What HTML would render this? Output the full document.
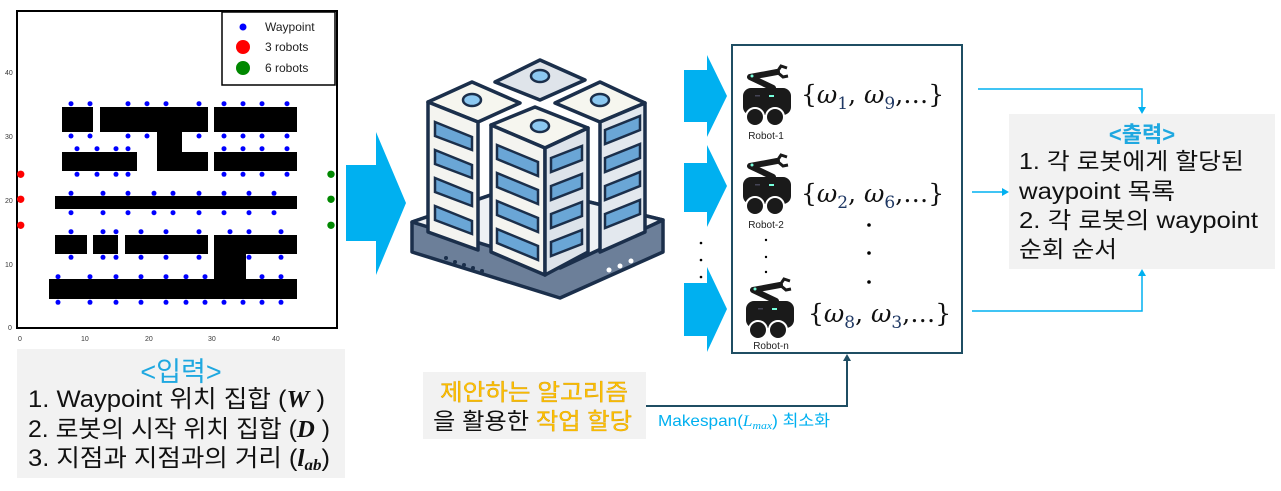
<!DOCTYPE html>
<html><head><meta charset="utf-8"><style>
body{margin:0;background:#fff;width:1281px;height:486px;overflow:hidden;font-family:"Liberation Sans","Noto Sans CJK KR",sans-serif}
</style></head><body>
<svg width="1281" height="486" viewBox="0 0 1281 486" xmlns="http://www.w3.org/2000/svg" font-family="Liberation Sans, Noto Sans CJK KR, sans-serif">
<defs>
<g id="rob">
<polyline points="30,23 7,12 34,7" fill="none" stroke="#1a1a1a" stroke-width="6" stroke-linejoin="round" stroke-linecap="round"/>
<path d="M34,7 L38,1 L44,3 M34,7 L40,12 L45,11" fill="none" stroke="#1a1a1a" stroke-width="3"/>
<circle cx="9" cy="11" r="1.5" fill="#7fd"/>
<rect x="0" y="23" width="48" height="27" rx="8" fill="#1a1a1a"/>
<rect x="26" y="30" width="5" height="2" fill="#7fd"/>
<rect x="12" y="30" width="5" height="1.5" fill="#445"/>
<circle cx="12" cy="52" r="9" fill="#1a1a1a" stroke="#fff" stroke-width="2"/>
<circle cx="32" cy="52" r="9" fill="#1a1a1a" stroke="#fff" stroke-width="2"/>
</g>
</defs>
<!-- plot -->
<rect x="17" y="11" width="320" height="317" fill="#fff" stroke="#000" stroke-width="2"/>
<g fill="#000" font-size="7" fill-opacity="0.8">
<text x="8" y="330">0</text><text x="5" y="267">10</text><text x="5" y="203">20</text><text x="5" y="139">30</text><text x="5" y="75">40</text>
<text x="18" y="341">0</text><text x="81" y="341">10</text><text x="145" y="341">20</text><text x="208" y="341">30</text><text x="272" y="341">40</text>
</g>
<g fill="#000">
<rect x="62" y="107" width="31" height="25"/><rect x="100" y="107" width="108" height="25"/><rect x="214" y="107" width="83" height="25"/>
<rect x="157" y="132" width="25" height="39"/><rect x="182" y="152" width="26" height="19"/>
<rect x="62" y="152" width="75" height="19"/><rect x="214" y="152" width="83" height="19"/>
<rect x="55" y="196" width="242" height="13"/>
<rect x="55" y="235" width="32" height="19"/><rect x="93" y="235" width="25" height="19"/><rect x="125" y="235" width="83" height="19"/>
<rect x="214" y="235" width="83" height="19"/><rect x="214" y="254" width="32" height="25"/>
<rect x="49" y="279" width="248" height="20"/>
</g>
<g fill="#00f">
<g transform="translate(0,103.7)"><circle cx="71" r="2.5"/><circle cx="90" r="2.5"/><circle cx="128" r="2.5"/><circle cx="147" r="2.5"/><circle cx="166" r="2.5"/><circle cx="199" r="2.5"/><circle cx="224" r="2.5"/><circle cx="243" r="2.5"/><circle cx="262" r="2.5"/><circle cx="287" r="2.5"/></g>
<g transform="translate(0,136)"><circle cx="71" r="2.5"/><circle cx="90" r="2.5"/><circle cx="128" r="2.5"/><circle cx="147" r="2.5"/><circle cx="199" r="2.5"/><circle cx="224" r="2.5"/><circle cx="243" r="2.5"/><circle cx="262" r="2.5"/><circle cx="287" r="2.5"/></g>
<g transform="translate(0,148.7)"><circle cx="77" r="2.5"/><circle cx="97" r="2.5"/><circle cx="116" r="2.5"/><circle cx="128" r="2.5"/><circle cx="224" r="2.5"/><circle cx="243" r="2.5"/><circle cx="262" r="2.5"/><circle cx="287" r="2.5"/></g>
<g transform="translate(0,174.3)"><circle cx="77" r="2.5"/><circle cx="97" r="2.5"/><circle cx="116" r="2.5"/><circle cx="128" r="2.5"/><circle cx="224" r="2.5"/><circle cx="243" r="2.5"/><circle cx="262" r="2.5"/><circle cx="287" r="2.5"/></g>
<g transform="translate(0,193.3)"><circle cx="71" r="2.5"/><circle cx="103" r="2.5"/><circle cx="128" r="2.5"/><circle cx="154" r="2.5"/><circle cx="173" r="2.5"/><circle cx="199" r="2.5"/><circle cx="224" r="2.5"/><circle cx="249" r="2.5"/><circle cx="274" r="2.5"/></g>
<g transform="translate(0,212.7)"><circle cx="71" r="2.5"/><circle cx="103" r="2.5"/><circle cx="128" r="2.5"/><circle cx="154" r="2.5"/><circle cx="173" r="2.5"/><circle cx="199" r="2.5"/><circle cx="224" r="2.5"/><circle cx="249" r="2.5"/><circle cx="274" r="2.5"/></g>
<g transform="translate(0,231.7)"><circle cx="71" r="2.5"/><circle cx="103" r="2.5"/><circle cx="116" r="2.5"/><circle cx="141" r="2.5"/><circle cx="166" r="2.5"/><circle cx="199" r="2.5"/><circle cx="230" r="2.5"/><circle cx="249" r="2.5"/><circle cx="281" r="2.5"/></g>
<g transform="translate(0,257.3)"><circle cx="71" r="2.5"/><circle cx="103" r="2.5"/><circle cx="116" r="2.5"/><circle cx="141" r="2.5"/><circle cx="166" r="2.5"/><circle cx="199" r="2.5"/><circle cx="249" r="2.5"/><circle cx="281" r="2.5"/></g>
<g transform="translate(0,276.7)"><circle cx="58" r="2.5"/><circle cx="90" r="2.5"/><circle cx="116" r="2.5"/><circle cx="141" r="2.5"/><circle cx="166" r="2.5"/><circle cx="186" r="2.5"/><circle cx="205" r="2.5"/><circle cx="262" r="2.5"/><circle cx="281" r="2.5"/></g>
<g transform="translate(0,302.3)"><circle cx="58" r="2.5"/><circle cx="90" r="2.5"/><circle cx="116" r="2.5"/><circle cx="141" r="2.5"/><circle cx="166" r="2.5"/><circle cx="186" r="2.5"/><circle cx="205" r="2.5"/><circle cx="224" r="2.5"/><circle cx="243" r="2.5"/><circle cx="262" r="2.5"/><circle cx="281" r="2.5"/></g>
</g>
<g fill="#f00"><circle cx="20.7" cy="174.3" r="3.7"/><circle cx="20.7" cy="199.3" r="3.7"/><circle cx="20.7" cy="225.3" r="3.7"/></g>
<g fill="#080"><circle cx="331" cy="174.3" r="3.7"/><circle cx="331" cy="199.3" r="3.7"/><circle cx="331" cy="225.3" r="3.7"/></g>
<rect x="222" y="12" width="113" height="73" fill="#fff" stroke="#000" stroke-width="1.5"/>
<circle cx="243" cy="27" r="3.5" fill="#00f"/><circle cx="243" cy="47" r="7" fill="#f00"/><circle cx="243" cy="68" r="7" fill="#080"/>
<g font-size="12" fill="#222"><text x="265" y="31">Waypoint</text><text x="265" y="51">3 robots</text><text x="265" y="72">6 robots</text></g>

<!-- input box -->
<rect x="17" y="349" width="328" height="129" fill="#f2f2f2"/>
<text x="181" y="381" font-size="27" fill="#1fa8e0" text-anchor="middle">&lt;입력&gt;</text>
<g font-size="24" fill="#111">
<text x="28" y="407" textLength="297" lengthAdjust="spacingAndGlyphs">1. Waypoint 위치 집합 (<tspan font-family="Liberation Serif" font-style="italic" font-weight="bold">W</tspan> )</text>
<text x="28" y="437" textLength="302" lengthAdjust="spacingAndGlyphs">2. 로봇의 시작 위치 집합 (<tspan font-family="Liberation Serif" font-style="italic" font-weight="bold">D</tspan> )</text>
<text x="28" y="466" textLength="302" lengthAdjust="spacingAndGlyphs">3. 지점과 지점과의 거리 (<tspan font-family="Liberation Serif" font-style="italic" font-weight="bold">l</tspan><tspan font-family="Liberation Serif" font-style="italic" font-weight="bold" font-size="16" dy="4">ab</tspan><tspan dy="-4">)</tspan></text>
</g>

<!-- big arrow -->
<polygon points="346,165 376,165 376,132 406,203 376,275 376,241 346,241" fill="#00b0f0"/>

<!-- server -->
<g stroke="#1b2f4b" stroke-width="3.5" stroke-linejoin="round">
<polygon points="412,222 520,185 663,220 663,252 560,298 412,252" fill="#6c7f99"/>
<polygon points="412,222 520,185 663,220 560,268" fill="#eef1f4"/>
<polygon points="495,82 540,60 585,80 540,100" fill="#dfe4ea"/>
<polygon points="428,102 472,82 520,103 478,122" fill="#f6f6ef"/>
<polygon points="428,102 478,122 478,250 428,232" fill="#f4f4f0"/>
<polygon points="555,103 600,82 645,103 600,122" fill="#f6f6ef"/>
<polygon points="600,122 645,103 645,232 600,252" fill="#e3e8ee"/>
<polygon points="491,125 535,107 588,128 545,148" fill="#f6f6ef"/>
<polygon points="491,125 545,148 545,275 491,252" fill="#f4f4f0"/>
<polygon points="545,148 588,128 588,252 545,275" fill="#dde3ea"/>
</g>
<g fill="#8cc8f0" stroke="#1b2f4b" stroke-width="2.5">
<ellipse cx="540" cy="76" rx="9" ry="6"/><ellipse cx="472" cy="100" rx="9" ry="6"/><ellipse cx="600" cy="100" rx="9" ry="6"/><ellipse cx="540" cy="126" rx="9" ry="6"/>
</g>
<g fill="#6aa6d6" stroke="#1b2f4b" stroke-width="2.5">
<polygon points="435,122 472,137 472,150 435,136"/><polygon points="435,150 472,165 472,178 435,164"/><polygon points="435,178 472,193 472,206 435,192"/><polygon points="435,206 472,221 472,234 435,220"/>
<polygon points="497,145 538,162 538,176 497,159"/><polygon points="497,173 538,190 538,204 497,187"/><polygon points="497,201 538,218 538,232 497,215"/><polygon points="497,229 538,246 538,260 497,243"/>
<polygon points="551,158 582,146 582,160 551,172"/><polygon points="551,186 582,174 582,188 551,200"/><polygon points="551,214 582,202 582,216 551,228"/><polygon points="551,242 582,230 582,244 551,256"/>
<polygon points="605,130 640,116 640,130 605,144"/><polygon points="605,158 640,144 640,158 605,172"/><polygon points="605,186 640,172 640,186 605,200"/><polygon points="605,214 640,200 640,214 605,228"/>
</g>
<g fill="#1b2f4b"><circle cx="446" cy="258" r="2"/><circle cx="455" cy="262" r="2"/><circle cx="464" cy="265" r="2"/><circle cx="473" cy="268" r="2"/><circle cx="482" cy="271" r="2"/></g>
<g fill="#fff"><circle cx="609" cy="270" r="2.5"/><circle cx="620" cy="266" r="2.5"/><circle cx="631" cy="261" r="2.5"/></g>

<!-- small arrows -->
<g fill="#00b0f0">
<polygon points="684,70 707,70 707,55 727,96 707,137 707,122 684,122"/>
<polygon points="684,163 707,163 707,145 727,186 707,227 707,212 684,212"/>
<polygon points="684,283 707,283 707,267 727,309 707,352 707,336 684,336"/>
</g>
<g fill="#000"><circle cx="701" cy="243" r="1.3"/><circle cx="701" cy="260" r="1.3"/><circle cx="701" cy="277" r="1.3"/></g>

<!-- robot box -->
<rect x="732" y="45" width="230" height="308" fill="#fff" stroke="#1f4e63" stroke-width="2"/>
<use href="#rob" x="743" y="65"/>
<use href="#rob" x="743" y="154"/>
<use href="#rob" x="746" y="278"/>
<g font-size="10" fill="#222" text-anchor="middle"><text x="766" y="139">Robot-1</text><text x="766" y="228">Robot-2</text><text x="771" y="349">Robot-n</text></g>
<g fill="#000"><circle cx="766" cy="240" r="1.2"/><circle cx="766" cy="257" r="1.2"/><circle cx="766" cy="272" r="1.2"/>
<circle cx="869" cy="225" r="1.8"/><circle cx="869" cy="253" r="1.8"/><circle cx="869" cy="282" r="1.8"/></g>
<g font-family="DejaVu Serif, Liberation Serif, serif" font-size="25" fill="#111">
<text x="801" y="103">{<tspan font-style="italic">ω</tspan><tspan font-size="17" dy="6" fill="#1f3864">1</tspan><tspan dy="-6">, </tspan><tspan font-style="italic">ω</tspan><tspan font-size="17" dy="6" fill="#1f3864">9</tspan><tspan dy="-6">,…}</tspan></text>
<text x="801" y="202">{<tspan font-style="italic">ω</tspan><tspan font-size="17" dy="6" fill="#1f3864">2</tspan><tspan dy="-6">, </tspan><tspan font-style="italic">ω</tspan><tspan font-size="17" dy="6" fill="#1f3864">6</tspan><tspan dy="-6">,…}</tspan></text>
<text x="808" y="322">{<tspan font-style="italic">ω</tspan><tspan font-size="17" dy="6" fill="#1f3864">8</tspan><tspan dy="-6">, </tspan><tspan font-style="italic">ω</tspan><tspan font-size="17" dy="6" fill="#1f3864">3</tspan><tspan dy="-6">,…}</tspan></text>
</g>

<!-- connectors to output -->
<g stroke="#00b0f0" stroke-width="1.5" fill="none">
<polyline points="978,89 1142,89 1142,108"/>
<polyline points="972,192 1003,192"/>
<polyline points="972,311 1142,311 1142,275"/>
</g>
<g fill="#00b0f0"><polygon points="1138,107 1146,107 1142,114"/><polygon points="1002,188 1002,196 1009,192"/><polygon points="1138,276 1146,276 1142,269"/></g>

<rect x="1009" y="114" width="266" height="155" fill="#f2f2f2"/>
<text x="1142" y="142" font-size="22" fill="#1fa8e0" text-anchor="middle" font-weight="bold">&lt;출력&gt;</text>
<g font-size="23" fill="#111">
<text x="1019" y="169" textLength="225" lengthAdjust="spacingAndGlyphs">1. 각 로봇에게 할당된</text>
<text x="1019" y="199" textLength="156" lengthAdjust="spacingAndGlyphs">waypoint 목록</text>
<text x="1019" y="228" textLength="239" lengthAdjust="spacingAndGlyphs">2. 각 로봇의 waypoint</text>
<text x="1019" y="257" textLength="98" lengthAdjust="spacingAndGlyphs">순회 순서</text>
</g>

<!-- algorithm box -->
<rect x="423" y="372" width="223" height="67" fill="#f2f2f2"/>
<g font-size="23">
<text x="440" y="400" textLength="188" lengthAdjust="spacingAndGlyphs" fill="#ffc000" stroke="#c89000" stroke-width="0.3">제안하는 알고리즘</text>
<text x="433" y="429" textLength="199" lengthAdjust="spacingAndGlyphs" fill="#111">을 활용한 <tspan fill="#ffc000" stroke="#c89000" stroke-width="0.3">작업 할당</tspan></text>
</g>
<polyline points="646,406 847,406 847,360" stroke="#1f4e63" stroke-width="2" fill="none"/>
<polygon points="843,361 851,361 847,354" fill="#1f4e63"/>
<text x="658" y="426" font-size="16" fill="#00b0f0" textLength="172" lengthAdjust="spacingAndGlyphs">Makespan(<tspan font-family="Liberation Serif" font-style="italic">L</tspan><tspan font-family="Liberation Serif" font-style="italic" font-size="11" dy="3">max</tspan><tspan dy="-3">) 최소화</tspan></text>
</svg>
</body></html>
